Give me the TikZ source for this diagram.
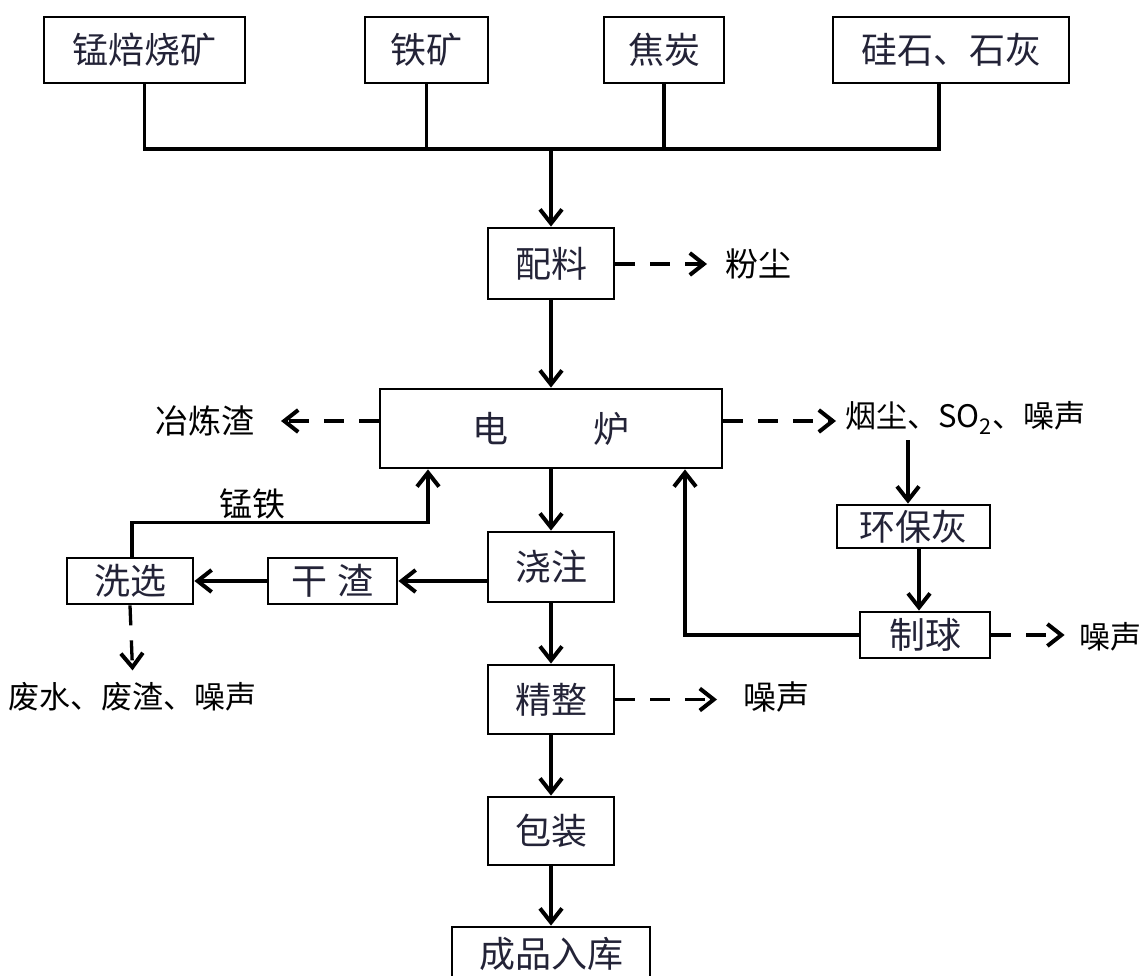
\documentclass[tikz,border=0pt]{standalone}
\usepackage{fontspec}
\usetikzlibrary{arrows.meta}
\newfontfamily\cjk{Noto Sans CJK SC}
\definecolor{boxtext}{RGB}{35,35,55}
\begin{document}
\begin{tikzpicture}[x=1pt,y=-1pt,
  box/.style={draw, line width=2.8pt, inner sep=0pt, font=\cjk\fontsize{36}{40}\selectfont, text=boxtext},
  lbl/.style={inner sep=0pt, font=\cjk\fontsize{33}{36}\selectfont},
  conn/.style={line width=3.3pt},
  arr/.style={conn, -{Straight Barb[length=14pt,width=22pt,line width=4pt]}},
  darr/.style={arr, dash pattern=on 20pt off 15pt}]
\useasboundingbox (0,0) rectangle (1143,976);
\clip (0,0) rectangle (1143,976);
% top row
\node[box, minimum width=201pt, minimum height=66pt] (mn) at (144.5,50) {锰焙烧矿};
\node[box, minimum width=123pt, minimum height=66pt] (tk) at (426.5,50) {铁矿};
\node[box, minimum width=120pt, minimum height=66pt] (jt) at (664,50) {焦炭};
\node[box, minimum width=236pt, minimum height=66pt] (sg) at (951,50) {硅石、石灰};
% main column
\node[box, minimum width=126pt, minimum height=71pt] (pl) at (551,263.5) {配料};
\node[box, minimum width=342pt, minimum height=79pt] (dl) at (551,428.5) {电\hspace{86pt}炉};
\node[box, minimum width=126pt, minimum height=70pt] (jz) at (551,567) {浇注};
\node[box, minimum width=126pt, minimum height=69pt] (jzh) at (551,699.5) {精整};
\node[box, minimum width=126pt, minimum height=68pt] (bz) at (551,831) {包装};
\node[box, minimum width=198pt, minimum height=54pt] (cp) at (551,954) {成品入库};
% left branch
\node[box, minimum width=129pt, minimum height=46pt] (gz) at (332.5,581) {干\hspace{10pt}渣};
\node[box, minimum width=126pt, minimum height=46pt] (xx) at (130,581) {洗选};
% right branch
\node[box, minimum width=153pt, minimum height=43pt] (hb) at (913.5,526.5) {环保灰};
\node[box, minimum width=130pt, minimum height=46pt] (zq) at (925,635) {制球};
% labels
\node[lbl, anchor=west] (fc) at (725,264) {粉尘};
\node[lbl, anchor=east] (yl) at (255,421) {冶炼渣};
\node[lbl, anchor=west, font=\cjk\fontsize{31}{34}\selectfont] (yc) at (845,418) {烟尘、SO\textsubscript{2}、噪声};
\node[lbl] (mt) at (252,504) {锰铁};
\node[lbl, font=\cjk\fontsize{31}{34}\selectfont] (fs) at (133,697) {废水、废渣、噪声};
\node[lbl, anchor=west] (zs1) at (743,697) {噪声};
\node[lbl, anchor=east, font=\cjk\fontsize{31}{34}\selectfont] (zs2) at (1142,637) {噪声};
% collector of raw materials
\coordinate (j) at (551,149);
\draw[conn] (mn.south) |- ([xshift=-12pt]sg.south |- j) -- ([xshift=-12pt]sg.south);
\draw[conn] (tk.south) -- (tk.south |- j);
\draw[conn] (jt.south) -- (jt.south |- j);
\draw[arr] (j) -- (pl.north);
% main flow
\draw[arr] (pl.south) -- (dl.north);
\draw[arr] (dl.south) -- (jz.north);
\draw[arr] (jz.south) -- (jzh.north);
\draw[arr] (jzh.south) -- (bz.north);
\draw[arr] (bz.south) -- (cp.north);
% emissions
\draw[darr, shorten >=18pt] (pl.east |- fc) -- (fc.west);
\draw[darr, shorten >=26pt] ([yshift=7.5pt]dl.west) -- (yl.east |- 0,421);
\coordinate (ya) at (836,421);
\draw[darr] ([yshift=7.5pt]dl.east) -- (ya);
\draw[darr, shorten >=26pt] (jzh.east) -- (zs1.west |- jzh);
\draw[darr, shorten >=15pt] (zq.east) -- (zs2.west |- zq);
\draw[darr, shorten >=12pt] (xx.south) -- (fs.north);
% dust recycling
\coordinate (ys) at (908,440);
\draw[arr] (ys) -- (ys |- hb.north);
\draw[arr] ([xshift=5.5pt]hb.south) -- ([xshift=5.5pt]hb.south |- zq.north);
\draw[arr] (zq.west) -| ([xshift=134pt]dl.south);
% slag handling
\draw[arr] (jz.west |- gz) -- (gz.east);
\draw[arr] (gz.west) -- (xx.east);
\draw[arr] ([xshift=2pt]xx.north) -- ++(0,-34) -| ([xshift=-123pt]dl.south);
\end{tikzpicture}
\end{document}
